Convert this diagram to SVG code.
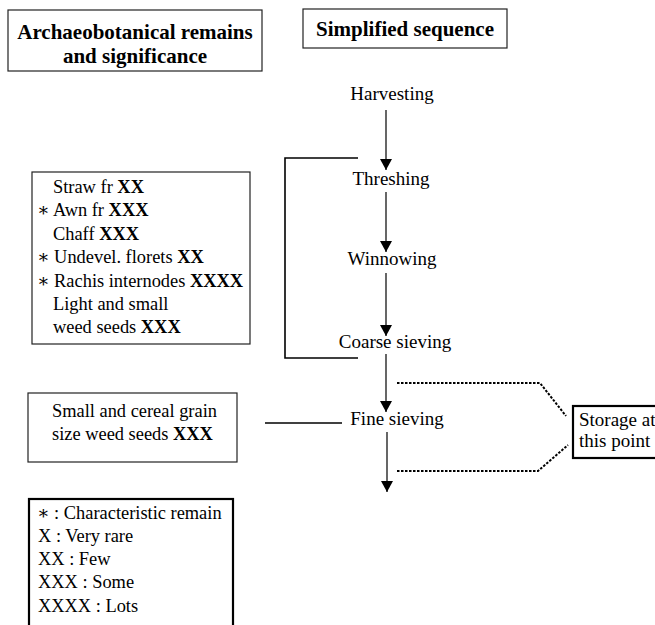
<svg xmlns="http://www.w3.org/2000/svg" width="655" height="625" viewBox="0 0 655 625" font-family="'Liberation Serif', 'DejaVu Serif', serif">
<style>
.t{font-size:21px;font-weight:bold}
.s{font-size:19px}
.r{font-size:18.4px}
.b{font-weight:bold}
.box{fill:#fff;stroke:#222;stroke-width:1.2}
.thick{fill:#fff;stroke:#000;stroke-width:2.2}
.ar{stroke:#000;stroke-width:1.2;fill:none}
.br{stroke:#000;stroke-width:1.6;fill:none}
.dot{stroke:#000;stroke-width:2;fill:none;stroke-dasharray:2.5 1.5}
</style>
<defs>
<marker id="tri" markerUnits="userSpaceOnUse" markerWidth="14" markerHeight="12" refX="11" refY="6" orient="auto" viewBox="0 0 14 12">
<path d="M0,0 L11,6 L0,12 Z" fill="#000"/>
</marker>
</defs>

<g id="title-remains">
<rect class="box" x="8" y="10" width="254" height="61"/>
<text class="t" x="135" y="39" text-anchor="middle">Archaeobotanical remains</text>
<text class="t" x="135" y="63" text-anchor="middle">and significance</text>
</g>

<g id="title-sequence">
<rect class="box" x="303" y="9" width="204" height="39"/>
<text class="t" x="405" y="36" text-anchor="middle">Simplified sequence</text>
</g>

<g id="harvesting"><text class="s" x="392" y="100" text-anchor="middle">Harvesting</text></g>
<g id="threshing"><text class="s" x="391" y="185" text-anchor="middle">Threshing</text></g>
<g id="winnowing"><text class="s" x="392" y="265" text-anchor="middle">Winnowing</text></g>
<g id="coarse-sieving"><text class="s" x="395" y="348" text-anchor="middle">Coarse sieving</text></g>
<g id="fine-sieving"><text class="s" x="397" y="425" text-anchor="middle">Fine sieving</text></g>

<g id="remains-box">
<rect class="box" x="32" y="172" width="218" height="172"/>
<text class="r" x="53" y="193">Straw fr  <tspan class="b">XX</tspan></text>
<text class="r" x="37" y="216">∗ Awn fr  <tspan class="b">XXX</tspan></text>
<text class="r" x="53" y="240">Chaff  <tspan class="b">XXX</tspan></text>
<text class="r" x="37" y="263">∗ Undevel. florets  <tspan class="b">XX</tspan></text>
<text class="r" x="37" y="287">∗ Rachis internodes <tspan class="b">XXXX</tspan></text>
<text class="r" x="53" y="310">Light and small</text>
<text class="r" x="53" y="333">weed seeds  <tspan class="b">XXX</tspan></text>
</g>

<g id="fine-box">
<rect class="box" x="28" y="393" width="209" height="69"/>
<text class="r" x="52" y="417">Small and cereal grain</text>
<text class="r" x="52" y="440">size weed seeds  <tspan class="b">XXX</tspan></text>
</g>

<g id="legend">
<rect class="thick" x="29" y="499" width="204" height="140"/>
<text class="r" x="37" y="519">∗ : Characteristic remain</text>
<text class="r" x="38" y="542">X : Very rare</text>
<text class="r" x="38" y="565">XX : Few</text>
<text class="r" x="38" y="588">XXX : Some</text>
<text class="r" x="38" y="612">XXXX : Lots</text>
</g>

<g id="storage">
<rect class="thick" x="573" y="406" width="90" height="52"/>
<text class="s" x="579" y="426">Storage at</text>
<text class="s" x="579" y="447">this point</text>
</g>

<g id="connectors">
<line class="ar" x1="386" y1="110" x2="386" y2="170" marker-end="url(#tri)"/>
<line class="ar" x1="386" y1="192" x2="386" y2="252" marker-end="url(#tri)"/>
<line class="ar" x1="386" y1="273" x2="386" y2="336" marker-end="url(#tri)"/>
<line class="ar" x1="386" y1="354" x2="386" y2="412" marker-end="url(#tri)"/>
<line class="ar" x1="387" y1="432" x2="387" y2="492" marker-end="url(#tri)"/>
<path class="br" d="M358,158 H285 V358 H358"/>
<line class="br" x1="265" y1="423" x2="342" y2="423"/>
<path class="dot" d="M397,383 H540 L566,416"/>
<path class="dot" d="M397,471 H538 L568,445"/>
</g>
</svg>
